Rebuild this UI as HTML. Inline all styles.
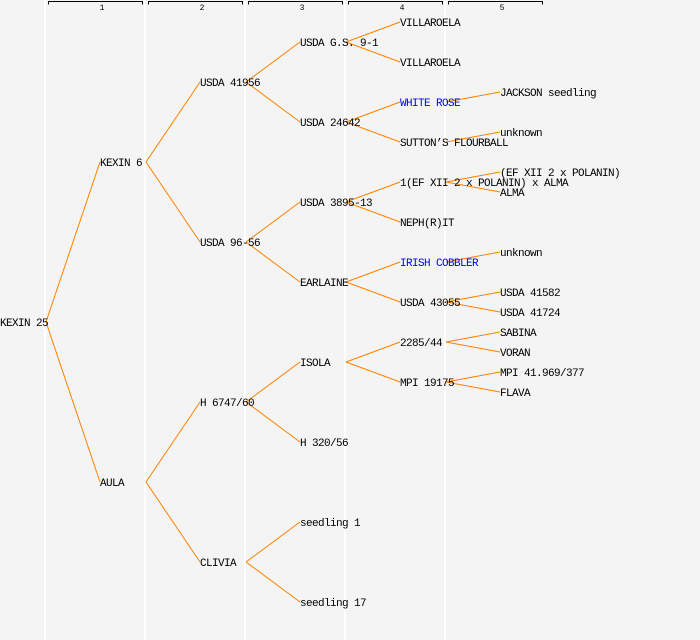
<!DOCTYPE html>
<html><head><meta charset="utf-8"><style>
html,body{margin:0;padding:0;background:#f4f4f4;}
svg{display:block}
text{font-family:"Liberation Mono","DejaVu Sans Mono",monospace;font-size:11px;letter-spacing:-0.6px;fill:#000;}
text.h{font-size:8px;letter-spacing:0}
.b{fill:#0000ff}
</style></head><body>
<svg width="700" height="640" xmlns="http://www.w3.org/2000/svg">
<rect width="700" height="640" fill="#f4f4f4"/>
<g stroke="#ffffff" stroke-width="2">
<line x1="45" y1="0" x2="45" y2="640"/><line x1="145" y1="0" x2="145" y2="640"/><line x1="245" y1="0" x2="245" y2="640"/><line x1="345" y1="0" x2="345" y2="640"/><line x1="445" y1="0" x2="445" y2="640"/>
</g>
<g stroke="#000" fill="none" stroke-width="1">
<path d="M48.5,4.5V1.5H142.5V4.5"/><path d="M148.5,4.5V1.5H242.5V4.5"/><path d="M248.5,4.5V1.5H342.5V4.5"/><path d="M348.5,4.5V1.5H442.5V4.5"/><path d="M448.5,4.5V1.5H542.5V4.5"/>
</g>
<g text-anchor="middle">
<text class="h" x="102" y="10">1</text><text class="h" x="202" y="10">2</text><text class="h" x="302" y="10">3</text><text class="h" x="402" y="10">4</text><text class="h" x="502" y="10">5</text>
</g>
<g stroke="#ff8000" stroke-width="1" fill="none">
<path d="M46,322L100,162M46,322L100,482"/>
<path d="M146,162L200,82M146,162L200,242M146,482L200,402M146,482L200,562"/>
<path d="M246,82L300,42M246,82L300,122M246,242L300,202M246,242L300,282M246,402L300,362M246,402L300,442M246,562L300,522M246,562L300,602"/>
<path d="M346,42L400,22M346,42L400,62M346,122L400,102M346,122L400,142M346,202L400,182M346,202L400,222M346,282L400,262M346,282L400,302M346,362L400,342M346,362L400,382"/>
<path d="M446,102L500,92M446,142L500,132M446,182L500,172M446,182L500,192M446,262L500,252M446,302L500,292M446,302L500,312M446,342L500,332M446,342L500,352M446,382L500,372M446,382L500,392"/>
</g>
<g>
<text x="0" y="326">KEXIN 25</text>
<text x="100" y="166">KEXIN 6</text><text x="100" y="486">AULA</text>
<text x="200" y="86">USDA 41956</text><text x="200" y="246">USDA 96-56</text><text x="200" y="406">H 6747/60</text><text x="200" y="566">CLIVIA</text>
<text x="300" y="46">USDA G.S. 9-1</text><text x="300" y="126">USDA 24642</text><text x="300" y="206">USDA 3895-13</text><text x="300" y="286">EARLAINE</text><text x="300" y="366">ISOLA</text><text x="300" y="446">H 320/56</text><text x="300" y="526">seedling 1</text><text x="300" y="606">seedling 17</text>
<text x="400" y="26">VILLAROELA</text><text x="400" y="66">VILLAROELA</text><text class="b" x="400" y="106">WHITE ROSE</text><text x="400" y="146">SUTTON’S FLOURBALL</text><text x="400" y="186">1(EF XII 2 x POLANIN) x ALMA</text><text x="400" y="226">NEPH(R)IT</text><text class="b" x="400" y="266">IRISH COBBLER</text><text x="400" y="306">USDA 43055</text><text x="400" y="346">2285/44</text><text x="400" y="386">MPI 19175</text>
<text x="500" y="96">JACKSON seedling</text><text x="500" y="136">unknown</text><text x="500" y="176">(EF XII 2 x POLANIN)</text><text x="500" y="196">ALMA</text><text x="500" y="256">unknown</text><text x="500" y="296">USDA 41582</text><text x="500" y="316">USDA 41724</text><text x="500" y="336">SABINA</text><text x="500" y="356">VORAN</text><text x="500" y="376">MPI 41.969/377</text><text x="500" y="396">FLAVA</text>
</g>
</svg>
</body></html>
